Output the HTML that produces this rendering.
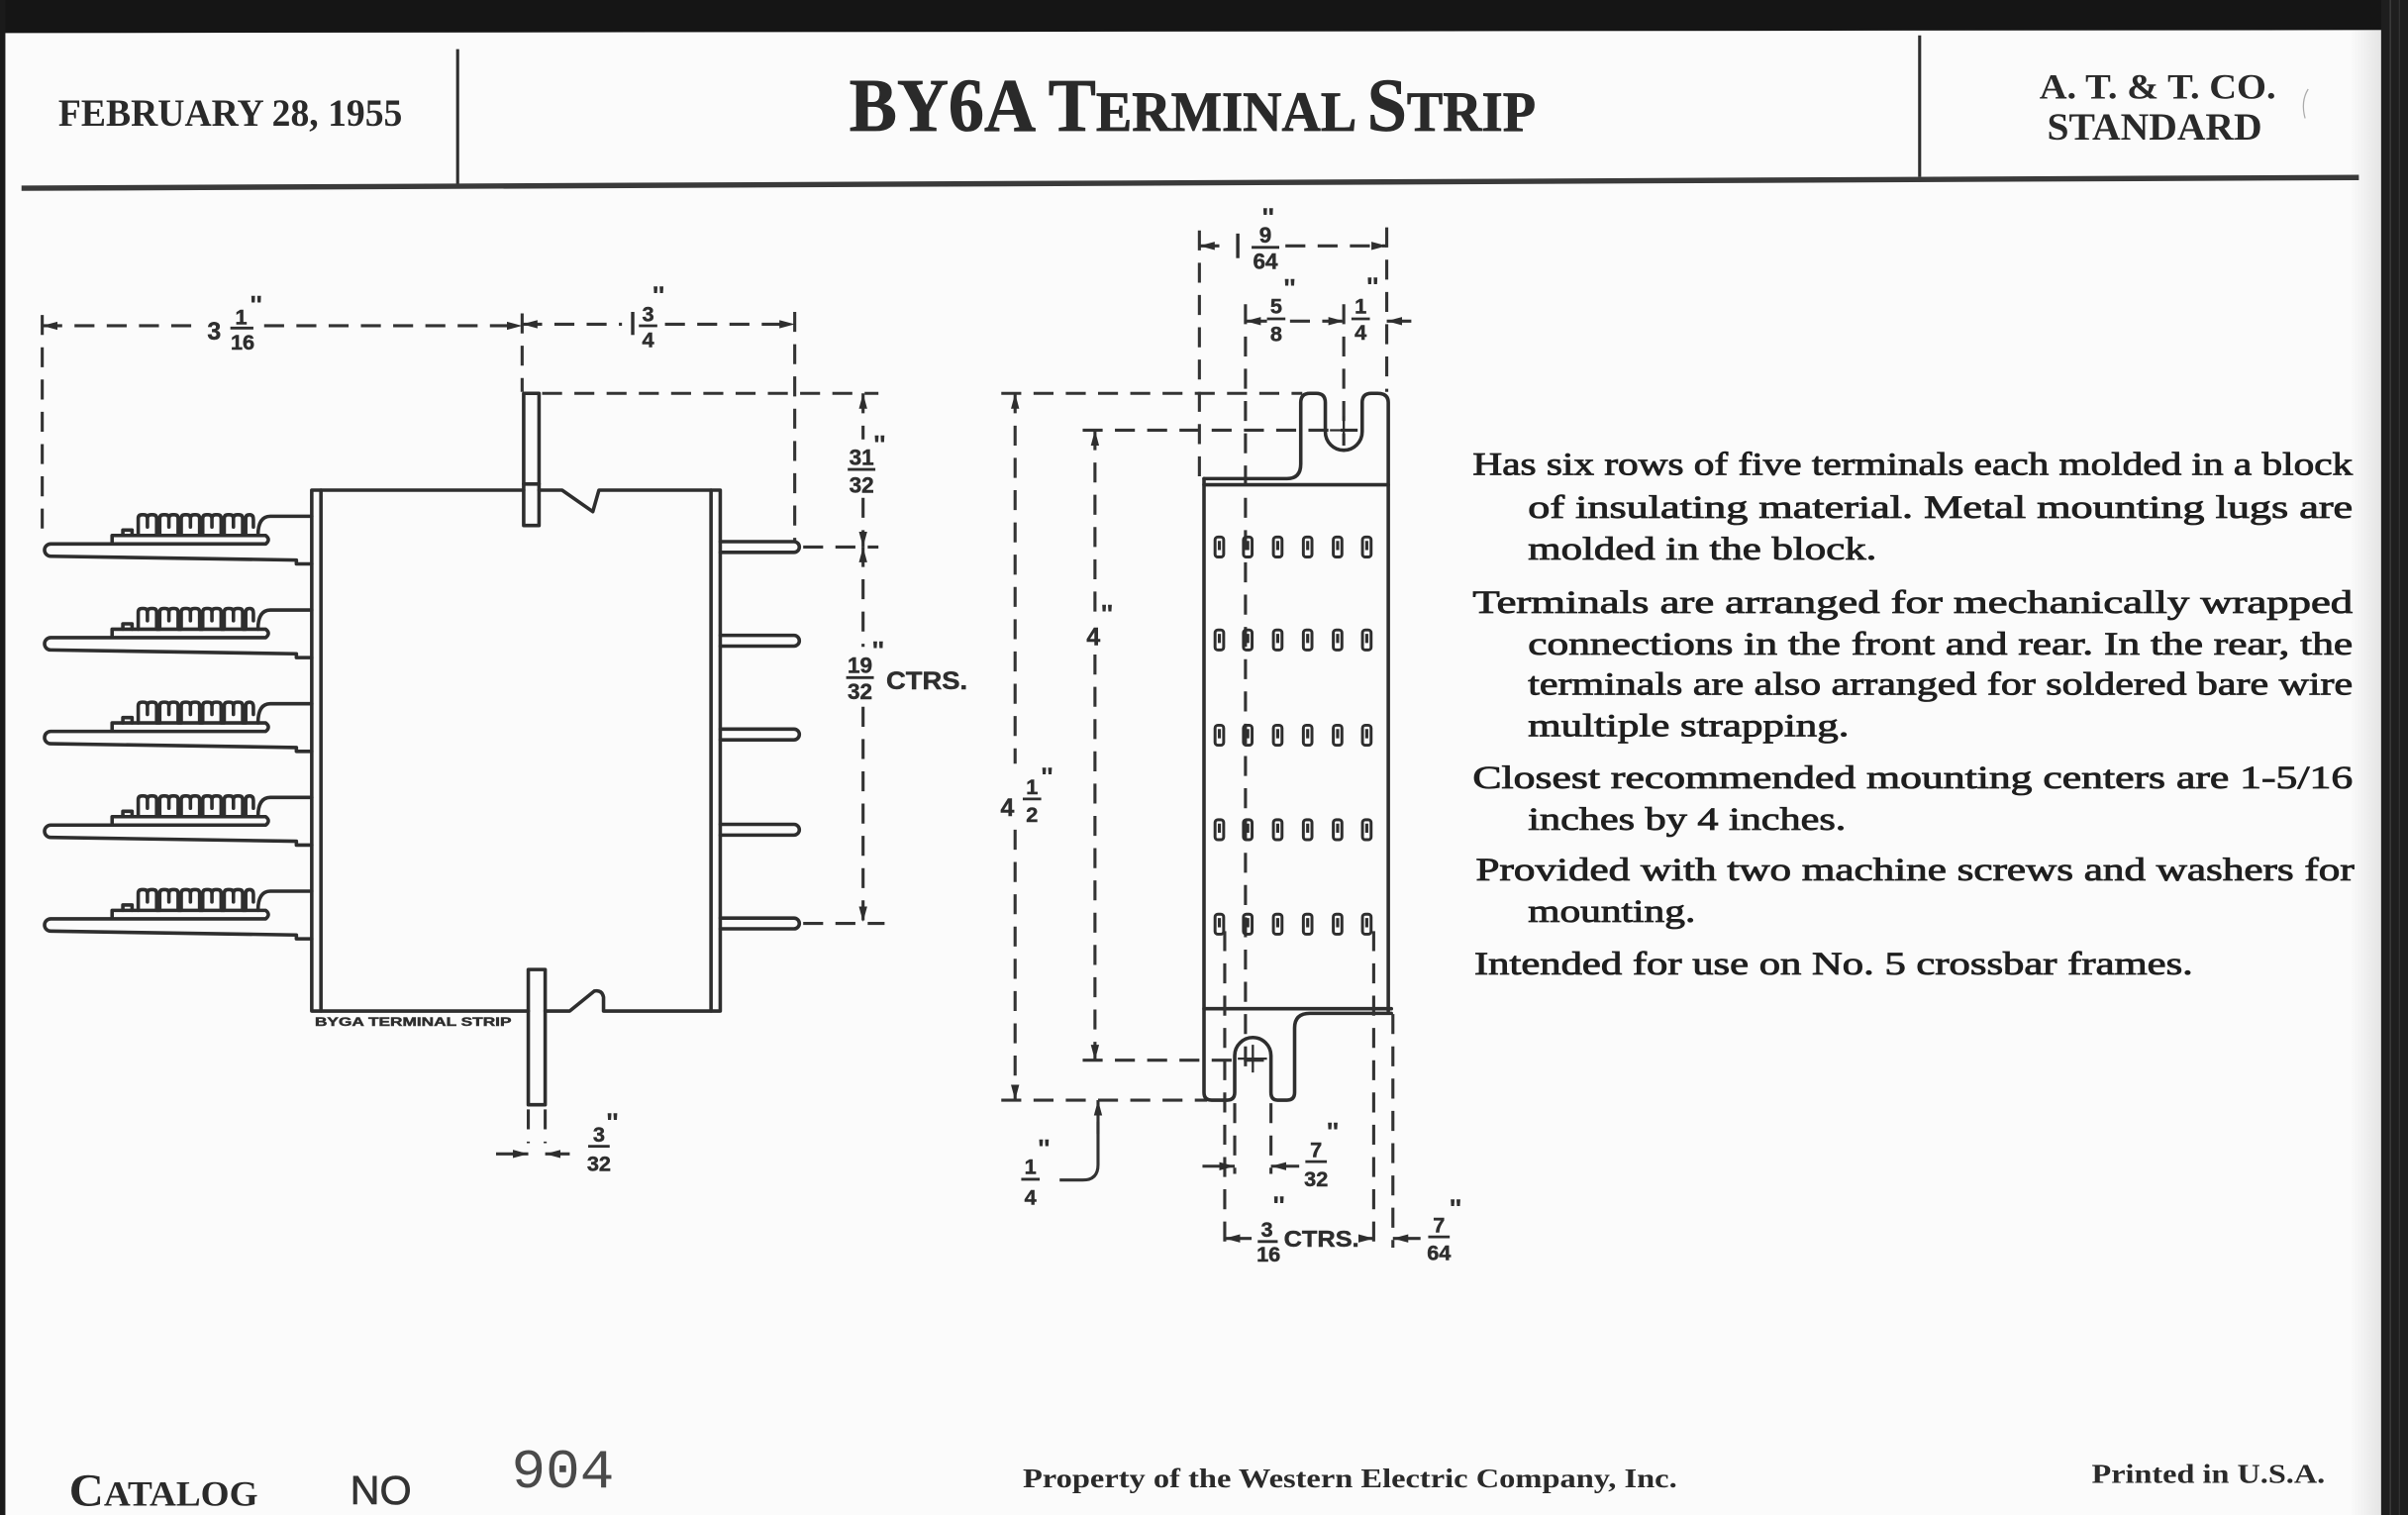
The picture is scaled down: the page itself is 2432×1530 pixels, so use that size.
<!DOCTYPE html>
<html><head><meta charset="utf-8">
<style>
html,body{margin:0;padding:0;background:#fbfbfb;width:2432px;height:1530px;overflow:hidden;}
svg{display:block;}
.l{fill:none;stroke:#2e2e2e;stroke-width:2.3;stroke-linejoin:round;stroke-linecap:round}
.k{fill:none;stroke:#333;stroke-width:2;stroke-dasharray:13 8}
.s1{fill:none;stroke:#333;stroke-width:2}
.d{font-family:"Liberation Sans",Arial,sans-serif;font-weight:bold;fill:#2e2e2e;stroke:#2e2e2e;stroke-width:0.3;}
.sr{font-family:"Liberation Serif","Times New Roman",serif;}
.t{font-family:"Liberation Serif","Times New Roman",serif;font-size:21px;fill:#1f1f1f;stroke:#1f1f1f;stroke-width:0.55;}
.fb{stroke:#2e2e2e;stroke-width:1.8}
</style></head><body>
<svg width="2432" height="1530" viewBox="0 0 1568 986" preserveAspectRatio="none" xmlns="http://www.w3.org/2000/svg">
<defs>
<marker id="a" viewBox="0 0 10 6" refX="10" refY="3" markerWidth="10" markerHeight="6" markerUnits="userSpaceOnUse" orient="auto-start-reverse"><path d="M0,0.3L10,3L0,5.7z" fill="#2e2e2e"/></marker>
<linearGradient id="g" x1="0" x2="1" y1="0" y2="0"><stop offset="0" stop-color="#fbfbfb"/><stop offset="1" stop-color="#e4e4e4"/></linearGradient>
<g id="t" class="l">
<path d="M203,367 L193,367 L193,364.5 L33,362 A4,4 0 0 1 33,354 L173,354 Q176.5,351.2 173,348.5 L73,348.5 L73,354"/>
<path d="M80,348.5 V345 H86 V348.5"/>
<path d="M90,348.5 V337.5 Q90,335 92.5,335 H93.5 Q96,335 96,337.5 V343 M96,337.5 Q96,335 98.5,335 H99.5 Q102,335 102,337.5 V348.5 H104
M104,348.5 V337.5 Q104,335 106.5,335 H107.5 Q110,335 110,337.5 V343 M110,337.5 Q110,335 112.5,335 H113.5 Q116,335 116,337.5 V348.5 H118
M118,348.5 V337.5 Q118,335 120.5,335 H121.5 Q124,335 124,337.5 V343 M124,337.5 Q124,335 126.5,335 H127.5 Q130,335 130,337.5 V348.5 H132
M132,348.5 V337.5 Q132,335 134.5,335 H135.5 Q138,335 138,337.5 V343 M138,337.5 Q138,335 140.5,335 H141.5 Q144,335 144,337.5 V348.5 H146
M146,348.5 V337.5 Q146,335 148.5,335 H149.5 Q152,335 152,337.5 V343 M152,337.5 Q152,335 154.5,335 H155.5 Q158,335 158,337.5 V348.5 H160
M160,348.5 V337.5 Q160,335 162.5,335 Q165,335 165,338 V343"/>
<path d="M168,348.5 Q168,336 176,336 H203"/>
</g>
<g id="r" fill="none" stroke="#2e2e2e" stroke-width="1.9">
<rect x="791.2" y="-6.5" width="5.6" height="13" rx="1.8"/>
<rect x="809.7" y="-6.5" width="5.6" height="13" rx="1.8"/>
<rect x="829.2" y="-6.5" width="5.6" height="13" rx="1.8"/>
<rect x="848.7" y="-6.5" width="5.6" height="13" rx="1.8"/>
<rect x="868.2" y="-6.5" width="5.6" height="13" rx="1.8"/>
<rect x="887.2" y="-6.5" width="5.6" height="13" rx="1.8"/>
<path d="M794,-4V2 M812.5,-4V2 M832,-4V2 M851.5,-4V2 M871,-4V2 M890,-4V2" stroke-width="2"/>
</g>
</defs>

<!-- paper and scan borders -->
<rect width="1568" height="986" fill="#fbfbfb"/>
<rect x="1530" y="0" width="21" height="986" fill="url(#g)"/>
<polygon points="0,0 1568,0 1568,19.5 0,21.5" fill="#151515"/>
<rect x="0" y="0" width="3.5" height="986" fill="#1a1a1a"/>
<rect x="1550.5" y="0" width="17.5" height="986" fill="#1e1e1e"/>
<rect x="1556" y="0" width="1" height="986" fill="#3a3a3a"/>
<rect x="1562" y="0" width="0.8" height="986" fill="#333"/>

<!-- header -->
<line x1="298" y1="32" x2="298" y2="121" stroke="#2e2e2e" stroke-width="2"/>
<line x1="1250" y1="23" x2="1250" y2="115" stroke="#2e2e2e" stroke-width="2"/>
<line x1="14" y1="122.5" x2="1536" y2="115.5" stroke="#3a3a3a" stroke-width="3.5"/>
<text x="38" y="82" font-size="25" font-weight="bold" class="sr" fill="#2a2a2a" textLength="224" lengthAdjust="spacingAndGlyphs">FEBRUARY 28, 1955</text>
<text x="553" y="85" class="sr" font-weight="bold" fill="#2a2a2a" stroke="#2a2a2a" stroke-width="0.5" textLength="447" lengthAdjust="spacingAndGlyphs"><tspan font-size="49">BY6A T</tspan><tspan font-size="37">ERMINAL </tspan><tspan font-size="49">S</tspan><tspan font-size="37">TRIP</tspan></text>
<text x="1328" y="64" font-size="23" font-weight="bold" class="sr" fill="#2a2a2a" textLength="154" lengthAdjust="spacingAndGlyphs">A. T. &amp; T. CO.</text>
<text x="1333" y="91" font-size="25" font-weight="bold" class="sr" fill="#2a2a2a" textLength="140" lengthAdjust="spacingAndGlyphs">STANDARD</text>
<path d="M1503,58 Q1498,66 1501,77" fill="none" stroke="#aaa" stroke-width="0.8"/>

<!-- LEFT DRAWING -->
<g class="l">
<path d="M341,319 L203,319 L203,658 L344,658"/>
<path d="M351,319 L366,319 L386,333 L390,319 L469,319 L469,658 L393,658 L393,649 Q392,644 387,645 L371,658 L355,658"/>
<line x1="209" y1="319" x2="209" y2="658"/>
<line x1="463" y1="319" x2="463" y2="658"/>
<rect x="341" y="256" width="10" height="86"/>
<line x1="341" y1="315" x2="351" y2="315"/>
<rect x="344" y="631" width="11" height="88"/>
<path d="M469,352.5 H517 A3.5,3.5 0 0 1 517,359.5 H469"/>
<path d="M469,413.5 H517 A3.5,3.5 0 0 1 517,420.5 H469"/>
<path d="M469,474.5 H517 A3.5,3.5 0 0 1 517,481.5 H469"/>
<path d="M469,536.5 H517 A3.5,3.5 0 0 1 517,543.5 H469"/>
<path d="M469,597.5 H517 A3.5,3.5 0 0 1 517,604.5 H469"/>
</g>
<use href="#t"/>
<use href="#t" y="61"/>
<use href="#t" y="122"/>
<use href="#t" y="183"/>
<use href="#t" y="244"/>
<text x="205" y="667.5" class="d" font-size="8" textLength="128" lengthAdjust="spacingAndGlyphs">BYGA TERMINAL STRIP</text>

<!-- left dims -->
<path class="k" d="M27.5,205 V352"/>
<path class="k" d="M340,204 V255"/>
<path class="k" d="M517.5,203 V352"/>
<path class="k" d="M27.5,212 H131" marker-start="url(#a)"/>
<path class="k" d="M172,212 H340" marker-end="url(#a)"/>
<text x="135" y="221" class="d" font-size="16">3</text>
<text x="157" y="211" class="d" font-size="14" text-anchor="middle">1</text>
<line x1="150" y1="213.5" x2="165" y2="213.5" class="fb"/>
<text x="158" y="227.5" class="d" font-size="14" text-anchor="middle">16</text>
<text x="163" y="204" class="d" font-size="16">''</text>
<path class="k" d="M340,211 H405" marker-start="url(#a)"/>
<line x1="412" y1="203" x2="412" y2="218" stroke="#2e2e2e" stroke-width="2.2"/>
<text x="422" y="209" class="d" font-size="14" text-anchor="middle">3</text>
<line x1="416" y1="212" x2="428" y2="212" class="fb"/>
<text x="422" y="226" class="d" font-size="14" text-anchor="middle">4</text>
<text x="425" y="198" class="d" font-size="16">''</text>
<path class="k" d="M433,211 H517.5" marker-end="url(#a)"/>

<path class="k" d="M353,256 H572"/>
<path class="k" d="M523,356 H572"/>
<path class="k" d="M562,256 V286" marker-start="url(#a)"/>
<path class="k" d="M562,324 V356" marker-end="url(#a)"/>
<text x="561" y="302.5" class="d" font-size="14.5" text-anchor="middle">31</text>
<line x1="552" y1="305.5" x2="570" y2="305.5" class="fb"/>
<text x="561" y="320.5" class="d" font-size="14.5" text-anchor="middle">32</text>
<text x="569" y="295" class="d" font-size="16">''</text>
<path class="k" d="M562,356 V421" marker-start="url(#a)"/>
<path class="k" d="M562,460 V600" marker-end="url(#a)"/>
<text x="560" y="438" class="d" font-size="14.5" text-anchor="middle">19</text>
<line x1="551" y1="441" x2="569" y2="441" class="fb"/>
<text x="560" y="455" class="d" font-size="14.5" text-anchor="middle">32</text>
<text x="568" y="429" class="d" font-size="16">''</text>
<text x="577" y="448.5" class="d" font-size="16" textLength="53" lengthAdjust="spacingAndGlyphs">CTRS.</text>
<path class="k" d="M523,601 H576"/>

<path class="k" d="M344,722 V744"/>
<path class="k" d="M355,722 V744"/>
<path class="s1" d="M323,751 H344" marker-end="url(#a)"/>
<path class="s1" d="M371,751 H355" marker-end="url(#a)"/>
<text x="390" y="743" class="d" font-size="14" text-anchor="middle">3</text>
<line x1="383" y1="746" x2="397" y2="746" class="fb"/>
<text x="390" y="762" class="d" font-size="14" text-anchor="middle">32</text>
<text x="395" y="736" class="d" font-size="16">''</text>

<!-- MIDDLE DRAWING -->
<path class="k" d="M652,256 H848"/>
<path class="k" d="M652,716 H786"/>
<path class="k" d="M661,256 V497" marker-start="url(#a)"/>
<path class="k" d="M661,540 V716" marker-end="url(#a)"/>
<text x="656" y="531" class="d" font-size="16" text-anchor="middle">4</text>
<text x="672" y="517" class="d" font-size="14" text-anchor="middle">1</text>
<line x1="666" y1="520" x2="678" y2="520" class="fb"/>
<text x="672" y="535" class="d" font-size="14" text-anchor="middle">2</text>
<text x="678" y="511" class="d" font-size="16">''</text>

<path class="k" d="M705,280 H884"/>
<path class="k" d="M705,690 H824"/>
<path class="k" d="M713,280 V398" marker-start="url(#a)"/>
<path class="k" d="M713,426 V690" marker-end="url(#a)"/>
<text x="712" y="420" class="d" font-size="16" text-anchor="middle">4</text>
<text x="717" y="405" class="d" font-size="16">''</text>

<path class="s1" d="M715,738 V716" marker-end="url(#a)"/>
<path class="s1" d="M715,730 V758 Q715,768 705,768 H690"/>
<text x="671" y="764" class="d" font-size="14" text-anchor="middle">1</text>
<line x1="665" y1="767.5" x2="677" y2="767.5" class="fb"/>
<text x="671" y="784" class="d" font-size="14" text-anchor="middle">4</text>
<text x="676" y="753" class="d" font-size="16">''</text>

<path class="k" d="M781,150 V310"/>
<path class="k" d="M903,148 V255"/>
<path class="k" d="M811,198 V700"/>
<path class="k" d="M875,198 V290"/>
<path class="k" d="M781,160 H800" marker-start="url(#a)"/>
<line x1="806" y1="152" x2="806" y2="168" stroke="#2e2e2e" stroke-width="2.2"/>
<text x="824" y="158" class="d" font-size="14.5" text-anchor="middle">9</text>
<line x1="815" y1="161" x2="833" y2="161" class="fb"/>
<text x="824" y="175" class="d" font-size="14.5" text-anchor="middle">64</text>
<text x="822" y="147" class="d" font-size="16">''</text>
<path class="k" d="M837,160 H903" marker-end="url(#a)"/>

<path class="s1" d="M825,209 H811" marker-end="url(#a)"/>
<text x="831" y="204" class="d" font-size="14" text-anchor="middle">5</text>
<line x1="825" y1="207.5" x2="837" y2="207.5" class="fb"/>
<text x="831" y="222" class="d" font-size="14" text-anchor="middle">8</text>
<text x="836" y="193" class="d" font-size="16">''</text>
<path class="k" d="M840,209 H875" marker-end="url(#a)"/>
<text x="886" y="204" class="d" font-size="14" text-anchor="middle">1</text>
<line x1="880" y1="207.5" x2="892" y2="207.5" class="fb"/>
<text x="886" y="221" class="d" font-size="14" text-anchor="middle">4</text>
<text x="890" y="192" class="d" font-size="16">''</text>
<path class="s1" d="M919,209 H903" marker-end="url(#a)"/>

<g class="l">
<path d="M784,311.5 H838 Q847,311.5 847,302 V262 Q847,256 853,256 H857 Q863,256 863,262 V281 A12,12 0 0 0 887,281 V262 Q887,256 893,256 H897 Q904,256 904,262 V658"/>
<path d="M784,311.5 V711 Q784,716 789,716 H799 Q804,716 804,711 V687 A11.8,11.8 0 0 1 827.6,687 V711 Q827.6,716 832,716 H838 Q843,716 843,711 V669 Q843,659.5 853,659.5 H906"/>
<line x1="784" y1="315.5" x2="904" y2="315.5"/>
<line x1="784" y1="656.5" x2="906" y2="656.5"/>
</g>
<path d="M866,280 H884 M875,271 V289 M806,689 H825 M815.8,680 V698" fill="none" stroke="#2e2e2e" stroke-width="1.5"/>
<use href="#r" y="356"/>
<use href="#r" y="416.5"/>
<use href="#r" y="478.5"/>
<use href="#r" y="540"/>
<use href="#r" y="601.5"/>

<path class="k" d="M797.5,606 V812"/>
<path class="k" d="M894.5,606 V812"/>
<path class="k" d="M907,660 V812"/>
<path class="k" d="M804,718 V764"/>
<path class="k" d="M827.6,718 V764"/>
<path class="s1" d="M783,759 H804" marker-end="url(#a)"/>
<path class="s1" d="M846,759 H827.6" marker-end="url(#a)"/>
<text x="857" y="753" class="d" font-size="14" text-anchor="middle">7</text>
<line x1="850" y1="756" x2="864" y2="756" class="fb"/>
<text x="857" y="772" class="d" font-size="14" text-anchor="middle">32</text>
<text x="864" y="742" class="d" font-size="16">''</text>
<path class="s1" d="M815,806 H797.5" marker-end="url(#a)"/>
<text x="825" y="805" class="d" font-size="14" text-anchor="middle">3</text>
<line x1="819" y1="808" x2="832" y2="808" class="fb"/>
<text x="826" y="821" class="d" font-size="14" text-anchor="middle">16</text>
<text x="829" y="790" class="d" font-size="16">''</text>
<text x="836" y="811.5" class="d" font-size="15" textLength="49" lengthAdjust="spacingAndGlyphs">CTRS.</text>
<path class="s1" d="M885,806 H894.5" marker-end="url(#a)"/>
<path class="s1" d="M925,806 H907" marker-end="url(#a)"/>
<text x="937" y="802" class="d" font-size="14" text-anchor="middle">7</text>
<line x1="930" y1="805" x2="944" y2="805" class="fb"/>
<text x="937" y="820" class="d" font-size="14" text-anchor="middle">64</text>
<text x="944" y="792" class="d" font-size="16">''</text>

<!-- description text -->
<text class="t" x="959" y="309" textLength="573" lengthAdjust="spacingAndGlyphs">Has six rows of five terminals each molded in a block</text>
<text class="t" x="995" y="337" textLength="537" lengthAdjust="spacingAndGlyphs">of insulating material.  Metal mounting lugs are</text>
<text class="t" x="995" y="364" textLength="227" lengthAdjust="spacingAndGlyphs">molded in the block.</text>
<text class="t" x="959" y="399" textLength="573" lengthAdjust="spacingAndGlyphs">Terminals are arranged for mechanically wrapped</text>
<text class="t" x="995" y="426" textLength="537" lengthAdjust="spacingAndGlyphs">connections in the front and rear.  In the rear, the</text>
<text class="t" x="995" y="452" textLength="537" lengthAdjust="spacingAndGlyphs">terminals are also arranged for soldered bare wire</text>
<text class="t" x="995" y="479" textLength="209" lengthAdjust="spacingAndGlyphs">multiple strapping.</text>
<text class="t" x="959" y="513" textLength="573" lengthAdjust="spacingAndGlyphs">Closest recommended mounting centers are 1-5/16</text>
<text class="t" x="995" y="540" textLength="207" lengthAdjust="spacingAndGlyphs">inches by 4 inches.</text>
<text class="t" x="961" y="573" textLength="572" lengthAdjust="spacingAndGlyphs">Provided with two machine screws and washers for</text>
<text class="t" x="995" y="600" textLength="109" lengthAdjust="spacingAndGlyphs">mounting.</text>
<text class="t" x="960" y="634" textLength="468" lengthAdjust="spacingAndGlyphs">Intended for use on No. 5 crossbar frames.</text>

<!-- footer -->
<text x="45" y="980" class="sr" font-weight="bold" fill="#2a2a2a" textLength="123" lengthAdjust="spacingAndGlyphs"><tspan font-size="30">C</tspan><tspan font-size="23">ATALOG</tspan></text>
<text x="228" y="979" font-family="Liberation Sans, Arial, sans-serif" font-size="26" fill="#333" stroke="#333" stroke-width="0.4" textLength="40" lengthAdjust="spacingAndGlyphs">NO</text>
<text x="333" y="968" font-family="Liberation Mono, monospace" font-size="36" fill="#4a4a4a" textLength="67" lengthAdjust="spacingAndGlyphs">904</text>
<text x="666" y="968" class="sr" font-weight="bold" font-size="18" fill="#2a2a2a" textLength="426" lengthAdjust="spacingAndGlyphs">Property of the Western Electric Company, Inc.</text>
<text x="1362" y="965" class="sr" font-weight="bold" font-size="18" fill="#2a2a2a" textLength="152" lengthAdjust="spacingAndGlyphs">Printed in U.S.A.</text>
</svg>
</body></html>
